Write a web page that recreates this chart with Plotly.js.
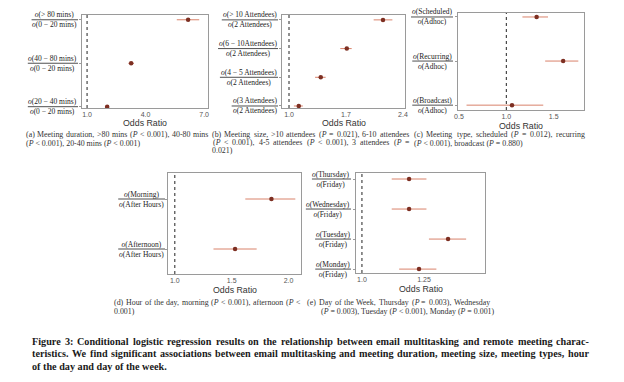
<!DOCTYPE html>
<html><head><meta charset="utf-8">
<script src="https://cdn.plot.ly/plotly-3.0.1.min.js"></script>
<style>html,body{margin:0;padding:0;background:#fff}#chart{width:624px;height:382px}</style>
</head><body><div id="chart"></div>
<script>
// ---- data (bottom to top within each panel) ----
const aNum = ['<i>o</i>(20 − 40 mins)', '<i>o</i>(40 − 80 mins)', '<i>o</i>(> 80 mins)'];
const aDen = ['<i>o</i>(0 − 20 mins)', '<i>o</i>(0 − 20 mins)', '<i>o</i>(0 − 20 mins)'];
const aOR = [2.03, 3.26, 6.18];
const aLo = [1.97, 3.12, 5.60];
const aHi = [2.09, 3.40, 6.75];

const bNum = ['<i>o</i>(3 Attendees)', '<i>o</i>(4 − 5 Attendees)', '<i>o</i>(6 − 10Attendees)', '<i>o</i>(> 10 Attendees)'];
const bDen = ['<i>o</i>(2 Attendees)', '<i>o</i>(2 Attendees)', '<i>o</i>(2 Attendees)', '<i>o</i>(2 Attendees)'];
const bOR = [1.12, 1.39, 1.71, 2.155];
const bLo = [1.06, 1.32, 1.63, 2.04];
const bHi = [1.17, 1.45, 1.77, 2.27];

const cNum = ['<i>o</i>(Broadcast)', '<i>o</i>(Recurring)', '<i>o</i>(Scheduled)'];
const cDen = ['<i>o</i>(Adhoc)', '<i>o</i>(Adhoc)', '<i>o</i>(Adhoc)'];
const cOR = [1.06, 1.60, 1.32];
const cLo = [0.58, 1.41, 1.17];
const cHi = [1.39, 1.76, 1.44];

const dNum = ['<i>o</i>(Afternoon)', '<i>o</i>(Morning)'];
const dDen = ['<i>o</i>(After Hours)', '<i>o</i>(After Hours)'];
const dOR = [1.53, 1.85];
const dLo = [1.34, 1.62];
const dHi = [1.72, 2.06];

const eNum = ['<i>o</i>(Monday)', '<i>o</i>(Tuesday)', '<i>o</i>(Wednesday)', '<i>o</i>(Thursday)'];
const eDen = ['<i>o</i>(Friday)', '<i>o</i>(Friday)', '<i>o</i>(Friday)', '<i>o</i>(Friday)'];
const eOR = [1.23, 1.347, 1.19, 1.19];
const eLo = [1.15, 1.27, 1.12, 1.12];
const eHi = [1.30, 1.42, 1.26, 1.26];

const aTicks = [1.0, 4.0, 7.0], aTickText = ['1.0', '4.0', '7.0'];
const bTicks = [1.0, 1.7, 2.4], bTickText = ['1.0', '1.7', '2.4'];
const cTicks = [0.5, 1.0, 1.5], cTickText = ['0.5', '1.0', '1.5'];
const dTicks = [1.0, 1.5, 2.0], dTickText = ['1.0', '1.5', '2.0'];
const eTicks = [1.0, 1.25, 1.5], eTickText = ['1.0', '1.25', '1.5'];

// sub-figure captions: x0,x1 (x1 given => justified line)
const captions = [
  {x: 25, x1: 207, y: 134, t: '(a) Meeting duration, >80 mins (<i>P</i> < 0.001), 40-80 mins'},
  {x: 25, y: 143, t: '(<i>P</i> < 0.001), 20-40 mins (<i>P</i> < 0.001)'},
  {x: 211, x1: 408, y: 134, t: '(b) Meeting size, >10 attendees (<i>P</i> = 0.021), 6-10 attendees'},
  {x: 212, x1: 408, y: 142, t: '(<i>P</i> < 0.001), 4-5 attendees (<i>P</i> < 0.001), 3 attendees (<i>P</i> ='},
  {x: 211, y: 150, t: '0.021)'},
  {x: 413, x1: 584, y: 134, t: '(c) Meeting type, scheduled (<i>P</i> = 0.012), recurring'},
  {x: 413, y: 143, t: '(<i>P</i> < 0.001), broadcast (<i>P</i> = 0.880)'},
  {x: 113, x1: 299, y: 302, t: '(d) Hour of the day, morning (<i>P</i> < 0.001), afternoon (<i>P</i> <'},
  {x: 113, y: 311, t: '0.001)'},
  {x: 306, x1: 489, y: 302, t: '(e) Day of the Week, Thursday (<i>P</i> = 0.003), Wednesday'},
  {x: 320, y: 311, t: '(<i>P</i> = 0.003), Tuesday (<i>P</i> < 0.001), Monday (<i>P</i> = 0.001)'}
];
const figCaption = [
  'Figure 3: Conditional logistic regression results on the relationship between email multitasking and remote meeting charac-',
  'teristics. We find significant associations between email multitasking and meeting duration, meeting size, meeting types, hour',
  'of the day and day of the week.'
];

// ---- layout geometry (pixels) ----
const W = 624, H = 382;
const panels = [
  {num: aNum, den: aDen, or: aOR, lo: aLo, hi: aHi, ticks: aTicks, tt: aTickText, box: [82, 208, 15, 108], xr: [0.74, 7.2], yr: [-0.03, 2.11], lab: 78},
  {num: bNum, den: bDen, or: bOR, lo: bLo, hi: bHi, ticks: bTicks, tt: bTickText, box: [282, 405, 15, 108], xr: [0.914, 2.425], yr: [-0.07, 3.17], lab: 278},
  {num: cNum, den: cDen, or: cOR, lo: cLo, hi: cHi, ticks: cTicks, tt: cTickText, box: [458, 584, 13, 110], xr: [0.49, 1.82], yr: [-0.11, 2.09], lab: 453},
  {num: dNum, den: dDen, or: dOR, lo: dLo, hi: dHi, ticks: dTicks, tt: dTickText, box: [168, 301, 173, 274], xr: [0.94, 2.11], yr: [-0.5, 1.52], lab: 165},
  {num: eNum, den: eDen, or: eOR, lo: eLo, hi: eHi, ticks: eTicks, tt: eTickText, box: [356, 485, 173, 273], xr: [0.976, 1.496], yr: [-0.13, 3.2], lab: 351}
];

const px = v => v / W, py = v => 1 - v / H;
const ctx = document.createElement('canvas').getContext('2d');
const SERIF = "'Liberation Serif', 'Times New Roman', serif";
const SANS = "'Liberation Sans', Arial, sans-serif";
const LBL_FS = 7.5, CAP_FS = 7.9, FIG_FS = 10.2;
const strip = s => s.replace(/<[^>]+>/g, '');
const measure = (s, fs, bold) => { ctx.font = (bold ? 'bold ' : '') + fs + "px 'Liberation Serif'"; return ctx.measureText(strip(s)).width; };

const traces = [], shapes = [], annotations = [];
const layout = {
  width: W, height: H, margin: {l: 0, r: 0, t: 0, b: 0},
  paper_bgcolor: '#fff', plot_bgcolor: '#fff', showlegend: false,
  font: {family: SANS, color: '#444'}
};

panels.forEach((p, i) => {
  const n = i === 0 ? '' : String(i + 1);
  const xa = 'x' + n, ya = 'y' + n;
  const idx = p.or.map((_, k) => k);
  traces.push({
    type: 'scatter', mode: 'markers', xaxis: xa, yaxis: ya,
    x: p.or, y: idx,
    marker: {color: '#7d2f22', size: 4.5, symbol: 'circle'},
    error_x: {type: 'data', symmetric: false,
      array: p.hi.map((h, k) => h - p.or[k]),
      arrayminus: p.lo.map((l, k) => p.or[k] - l),
      color: '#d9826a', thickness: 1, width: 0},
    hoverinfo: 'skip'
  });
  layout['xaxis' + n] = {
    domain: [px(p.box[0]), px(p.box[1])], anchor: ya, range: p.xr,
    tickvals: p.ticks, ticktext: p.tt, ticks: '', showgrid: false, zeroline: false,
    showline: true, mirror: true, linecolor: '#9a9a9a', linewidth: 1,
    tickfont: {size: 7, color: '#555'}
  };
  layout['yaxis' + n] = {
    domain: [py(p.box[3]), py(p.box[2])], anchor: xa, range: p.yr,
    tickvals: idx, ticktext: idx.map(() => ''), ticks: 'outside', ticklen: 2, tickcolor: '#9a9a9a',
    showgrid: false, zeroline: false,
    showline: true, mirror: true, linecolor: '#9a9a9a', linewidth: 1
  };
  shapes.push({type: 'line', xref: xa, yref: ya + ' domain', x0: 1, x1: 1, y0: 0, y1: 1,
    line: {color: '#222', width: 1, dash: 'dot'}});
  annotations.push({xref: 'paper', yref: 'paper', x: px((p.box[0] + p.box[1]) / 2),
    y: py(p.box[3] + 15.5), text: 'Odds Ratio', showarrow: false, xanchor: 'center', yanchor: 'middle',
    font: {size: 8.8, color: '#333', family: SANS}});
  idx.forEach(k => {
    const w = Math.max(measure(p.num[k], LBL_FS), measure(p.den[k], LBL_FS)) + 2;
    annotations.push({xref: 'paper', yref: ya, x: px(p.lab - w / 2), y: k,
      text: p.num[k] + '<br>' + p.den[k], showarrow: false, xanchor: 'center', yanchor: 'middle', align: 'center',
      font: {size: LBL_FS, color: '#222', family: SERIF}});
    shapes.push({type: 'line', xref: 'paper', yref: ya, x0: px(p.lab - w), x1: px(p.lab), y0: k, y1: k,
      line: {color: '#222', width: 0.8}});
  });
});

// text line placement; justified when x1 is given
function placeLine(text, x0, x1, y, fs, bold, color) {
  const wrap = s => bold ? '<b>' + s + '</b>' : s;
  const font = {size: fs, color: color, family: SERIF};
  if (x1 === undefined) {
    annotations.push({xref: 'paper', yref: 'paper', x: px(x0), y: py(y), text: wrap(text), showarrow: false,
      xanchor: 'left', yanchor: 'middle', align: 'left', borderpad: 0, font: font});
    return;
  }
  const words = text.split(' ');
  const ws = words.map(w => measure(w, fs, bold));
  const total = ws.reduce((s, v) => s + v, 0);
  const gap = (x1 - x0 - total) / (words.length - 1);
  let x = x0;
  words.forEach((w, k) => {
    annotations.push({xref: 'paper', yref: 'paper', x: px(x), y: py(y), text: wrap(w), showarrow: false,
      xanchor: 'left', yanchor: 'middle', align: 'left', borderpad: 0, font: font});
    x += ws[k] + gap;
  });
}

captions.forEach(c => placeLine(c.t, c.x, c.x1, c.y, CAP_FS, false, '#333'));
figCaption.forEach((t, k) => placeLine(t, 31, k < 2 ? 588 : undefined, 341 + k * 12.5, FIG_FS, true, '#1a1a1a'));

layout.shapes = shapes;
layout.annotations = annotations;
Plotly.newPlot('chart', traces, layout, {staticPlot: true, displayModeBar: false});
</script></body></html>
